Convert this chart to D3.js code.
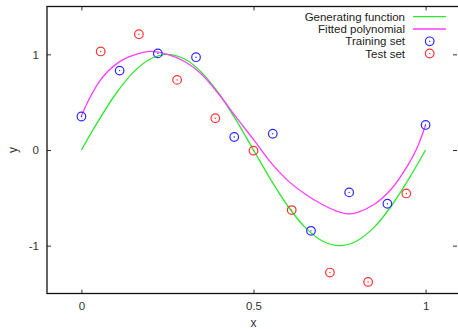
<!DOCTYPE html>
<html><head><meta charset="utf-8">
<script src="https://cdn.jsdelivr.net/npm/d3@7"></script>
<style>
body{margin:0;background:#fff;}
svg{display:block;font-family:"Liberation Sans",Arial,sans-serif;}
</style></head>
<body><svg id="c" width="458" height="329"></svg>
<script>
// ---- data ----
const xTicks = [0, 0.5, 1];
const xTickLabels = ["0", "0.5", "1"];
const yTicks = [-1, 0, 1];
const yTickLabels = ["-1", "0", "1"];

const genX = [0,0.05,0.1,0.15,0.2,0.25,0.3,0.35,0.4,0.45,0.5,0.55,0.6,0.65,0.7,0.75,0.8,0.85,0.9,0.95,1];
const genY = [0,0.309,0.588,0.809,0.951,1,0.951,0.809,0.588,0.309,0,-0.309,-0.588,-0.809,-0.951,-1,-0.951,-0.809,-0.588,-0.309,0];

const fitX = [0,0.02,0.05,0.075,0.1,0.125,0.15,0.2,0.25,0.3,0.35,0.4,0.45,0.5,0.55,0.6,0.65,0.7,0.75,0.775,0.8,0.85,0.9,0.95,0.975,1];
const fitY = [0.355,0.515,0.705,0.815,0.895,0.952,0.99,1.03,1.0,0.925,0.79,0.58,0.34,0.11,-0.13,-0.32,-0.46,-0.57,-0.65,-0.668,-0.655,-0.57,-0.41,-0.15,0.02,0.262];

const trainX = [0,0.111,0.222,0.333,0.444,0.556,0.667,0.778,0.889,1];
const trainY = [0.35,0.83,1.01,0.97,0.136,0.17,-0.845,-0.443,-0.562,0.262];

const testX = [0.056,0.167,0.278,0.389,0.5,0.611,0.722,0.833,0.944];
const testY = [1.03,1.21,0.733,0.332,-0.007,-0.628,-1.281,-1.379,-0.454];

const legendLabels = ["Generating function","Fitted polynomial","Training set","Test set"];

// ---- drawing ----
const svg = d3.select("#c");
const L = 47, R = 460, T = 6.5, B = 293.5;
const x = d3.scaleLinear().domain([-0.1, 1.1]).range([L, R]);
const y = d3.scaleLinear().domain([-1.5, 1.5]).range([B, T]);

const cGreen = "#2ee82e", cMag = "#ff3cff", cBlue = "#2b2bff", cRed = "#ff3333";

function styleAxis(g){
  g.select(".domain").remove();
  g.selectAll(".tick line").attr("stroke","#333").attr("stroke-width",1);
  g.selectAll(".tick text").attr("fill","#333").attr("font-size","11.5px").attr("font-family","Liberation Sans, Arial, sans-serif");
}

svg.append("g").attr("transform",`translate(0,${B})`)
  .call(d3.axisBottom(x).tickValues(xTicks).tickFormat((d,i)=>xTickLabels[i]).tickSizeInner(-4).tickSizeOuter(0).tickPadding(8))
  .call(styleAxis);
svg.append("g").attr("transform",`translate(0,${T})`)
  .call(d3.axisTop(x).tickValues(xTicks).tickFormat("").tickSizeInner(-4).tickSizeOuter(0))
  .call(styleAxis);
svg.append("g").attr("transform",`translate(${L},0)`)
  .call(d3.axisLeft(y).tickValues(yTicks).tickFormat((d,i)=>yTickLabels[i]).tickSizeInner(-4).tickSizeOuter(0).tickPadding(8))
  .call(styleAxis);
svg.append("g").attr("transform",`translate(${R - 3},0)`)
  .call(d3.axisRight(y).tickValues(yTicks).tickFormat("").tickSizeInner(-4).tickSizeOuter(0))
  .call(styleAxis);

svg.append("rect").attr("x",L).attr("y",T).attr("width",R-L).attr("height",B-T)
  .attr("fill","none").attr("stroke","#111").attr("stroke-width",1.3);

// axis labels
svg.append("text").attr("x",x(0.5)).attr("y",327).attr("text-anchor","middle")
  .attr("font-size","12px").attr("fill","#333").text("x");
svg.append("text").attr("transform",`translate(17,${y(0)}) rotate(-90)`).attr("text-anchor","middle")
  .attr("font-size","12px").attr("fill","#333").text("y");

// curves
const line = d3.line().x(d=>x(d[0])).y(d=>y(d[1])).curve(d3.curveCatmullRom.alpha(0.5));
svg.append("path").datum(genX.map((v,i)=>[v,genY[i]])).attr("d",line)
  .attr("fill","none").attr("stroke",cGreen).attr("stroke-width",1.3);
svg.append("path").datum(fitX.map((v,i)=>[v,fitY[i]])).attr("d",line)
  .attr("fill","none").attr("stroke",cMag).attr("stroke-width",1.3);

function marker(g, cx, cy, col){
  g.append("circle").attr("cx",cx).attr("cy",cy).attr("r",4.3)
    .attr("fill","none").attr("stroke",col).attr("stroke-width",1.2);
  g.append("circle").attr("cx",cx).attr("cy",cy).attr("r",0.7).attr("fill",col);
}
const pts = svg.append("g");
trainX.forEach((v,i)=>marker(pts, x(v), y(trainY[i]), cBlue));
testX.forEach((v,i)=>marker(pts, x(v), y(testY[i]), cRed));

// legend
const lg = svg.append("g");
const rowY = [16.7, 29, 41.3, 53.5];
const cols = [cGreen, cMag, cBlue, cRed];
legendLabels.forEach((t,i)=>{
  lg.append("text").attr("x",405).attr("y",rowY[i]).attr("dy","0.35em").attr("text-anchor","end")
    .attr("font-size","11.5px").attr("fill","#222").text(t);
  if(i<2){
    lg.append("line").attr("x1",413).attr("x2",446).attr("y1",rowY[i]).attr("y2",rowY[i])
      .attr("stroke",cols[i]).attr("stroke-width",1.3);
  } else {
    marker(lg, 429.7, rowY[i], cols[i]);
  }
});
</script></body></html>
